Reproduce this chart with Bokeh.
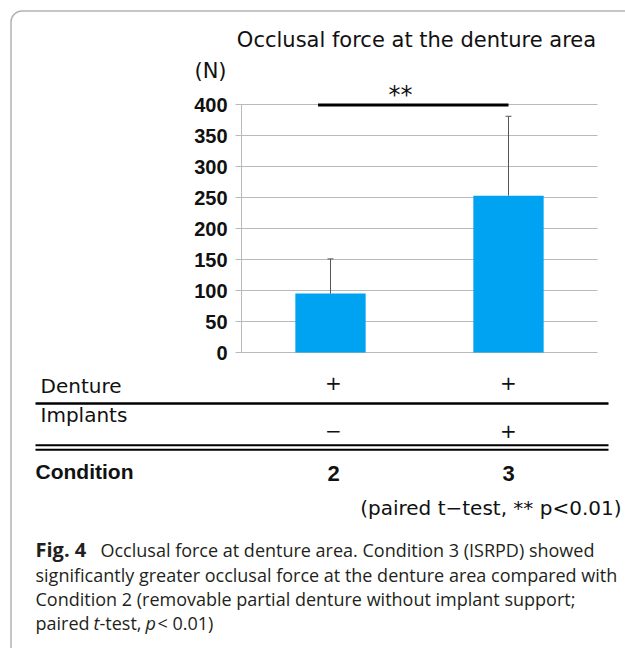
from bokeh.plotting import figure
from bokeh.models import ColumnDataSource, Range1d, Label, BoxAnnotation, Whisker, TeeHead
from bokeh.core.properties import value
from bokeh.embed import file_html
from bokeh.resources import INLINE

# ---------------- data ----------------
conditions = ["2", "3"]
bar_x = [0.5, 1.5]
means = [95, 253]
sd_upper = [151, 381]
yticks = [0, 50, 100, 150, 200, 250, 300, 350, 400]
sig_x = [0.43, 1.5]
sig_y = 399
denture_row = ["+", "+"]
implant_row = ["−", "+"]

title_text = "Occlusal force at the denture area"
caption_lines = [
    "significantly greater occlusal force at the denture area compared with",
    "Condition 2 (removable partial denture without implant support;",
]

# ---------------- geometry (page px) ----------------
W, H = 625, 648
AX_LEFT, AX_RIGHT = 241, 597     # plot area of the bar chart
Y0_PX, Y400_PX = 352, 104        # pixel rows of value 0 and 400
px_per_x = (AX_RIGHT - AX_LEFT) / 2.0
px_per_y = (Y0_PX - Y400_PX) / 400.0

x_range = Range1d(-AX_LEFT / px_per_x, (W - AX_LEFT) / px_per_x)
y_range = Range1d((Y0_PX - H) / px_per_y, Y0_PX / px_per_y)

p = figure(width=W, height=H, output_backend="svg", toolbar_location=None,
           x_range=x_range, y_range=y_range,
           x_axis_location=None, y_axis_location=None,
           min_border=0, min_border_left=0, min_border_right=0,
           min_border_top=0, min_border_bottom=0)
p.outline_line_color = None
p.grid.visible = False

GRID = "#b9b9b9"
tick_len = 6 / px_per_x
# gridlines + outward ticks
p.segment(x0=-tick_len, x1=2, y0=yticks, y1=yticks, line_color=GRID, line_width=1)
# axis line
p.segment(x0=[0], x1=[0], y0=[0], y1=[yticks[-1]], line_color=GRID, line_width=1)
# tick labels
p.text(x=0, y=yticks, text=[str(t) for t in yticks], x_offset=-14,
       text_align="right", text_baseline="middle",
       text_font=value("Liberation Sans"), text_font_style="bold",
       text_font_size="20px", text_color="#111111")

src = ColumnDataSource(dict(x=bar_x, top=means, upper=sd_upper))
p.vbar(x="x", top="top", bottom=0, width=0.395, source=src,
       fill_color="#00a2f2", line_color=None)
wh = Whisker(base="x", lower="top", upper="upper", source=src, dimension="height",
             line_color="#555555", line_width=1,
             upper_head=TeeHead(size=6, line_color="#555555", line_width=1),
             lower_head=None, level="glyph")
p.add_layout(wh)
p.segment(x0=[sig_x[0]], y0=[sig_y], x1=[sig_x[1]], y1=[sig_y],
          line_color="black", line_width=3)

GF = "DejaVu Sans"
BF = "Liberation Sans"
CAP = "Open Sans"


def sy(y):
    return H - y


def lab(text, x, y, size, font=GF, style="normal", align="left", color="#111111"):
    p.add_layout(Label(x=x, y=sy(y), x_units="screen", y_units="screen",
                       text=text, text_font=font, text_font_style=style,
                       text_font_size=size, text_align=align,
                       text_baseline="middle", text_color=color))


# title & axis unit
lab(title_text, 416, 39, "21px", align="center")
lab("(N)", 210, 70, "21px", align="center")
lab("**", 400, 94, "24px", align="center")

# table
col_x = [333, 508]
lab("Denture", 40, 385, "20px")
lab("Implants", 40, 414, "20px")
lab("Condition", 35, 471, "21px", font=BF, style="bold")
for cx, d, i, c in zip(col_x, denture_row, implant_row, conditions):
    lab(d, cx, 382, "20px", align="center")
    lab(i, cx, 430, "20px", align="center")
    lab(c, cx, 473, "22px", font=BF, style="bold", align="center")
lab("(paired t−test, ** p<0.01)", 621, 507, "20px", align="right")


def hbar(y0, y1, x0=35, x1=608):
    p.add_layout(BoxAnnotation(left=x0, right=x1, top=sy(y0), bottom=sy(y1),
                               left_units="screen", right_units="screen",
                               top_units="screen", bottom_units="screen",
                               fill_color="black", fill_alpha=1, line_color=None))


hbar(401.8, 404.2)
hbar(443.7, 445.7)
hbar(448.2, 450.2)

# caption
CC = "#231f20"
CS = "18px"
lab("Fig. 4", 35, 549, "20px", font=CAP, style="bold", color=CC)
lab("Occlusal force at denture area. Condition 3 (ISRPD) showed", 100, 549, CS,
    font=CAP, color=CC)
lab(caption_lines[0], 35, 574, CS, font=CAP, color=CC)
lab(caption_lines[1], 35, 598, CS, font=CAP, color=CC)
lab("paired", 35, 622, CS, font=CAP, color=CC)
lab("t", 93, 622, CS, font=CAP, style="italic", color=CC)
lab("-test,", 99, 622, CS, font=CAP, color=CC)
lab("p", 145, 622, CS, font=CAP, style="italic", color=CC)
lab("< 0.01)", 157, 622, CS, font=CAP, color=CC)

# rounded frame box
p.add_layout(BoxAnnotation(left=10.5, right=W + 60, top=sy(10.5), bottom=sy(H + 60),
                           left_units="screen", right_units="screen",
                           top_units="screen", bottom_units="screen",
                           fill_alpha=0, line_color="#000000", line_width=1.5,
                           border_radius=11))

open("out.html", "w").write(file_html(p, INLINE))
